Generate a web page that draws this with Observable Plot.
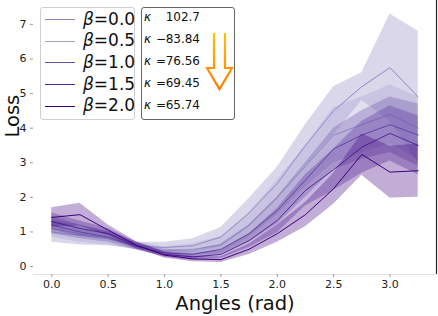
<!DOCTYPE html>
<html><head><meta charset="utf-8">
<script src="https://cdn.jsdelivr.net/npm/d3@7"></script>
<script src="https://cdn.jsdelivr.net/npm/@observablehq/plot@0.6"></script>
<style>
body{margin:0;background:#fff;font-family:"DejaVu Sans",sans-serif;}
#wrap{position:relative;width:438px;height:316px;overflow:hidden;}
.box{position:absolute;box-sizing:border-box;border-radius:3px;background:rgba(255,255,255,0.85);}
.row{position:absolute;white-space:nowrap;line-height:1;}
</style></head><body>
<div id="wrap"></div>
<script>
const angles = [0, 0.25, 0.5, 0.75, 1.0, 1.25, 1.5, 1.75, 2.0, 2.25, 2.5, 2.75, 3.0, 3.25];
const betas = ["0.0", "0.5", "1.0", "1.5", "2.0"];
const kappaSigns = [" ", "−", "=", "=", "="];
const kappaValues = ["102.7", "83.84", "76.56", "69.45", "65.74"];
const colors = ["#8e84c2", "#a39dd0", "#6b51a6", "#55289a", "#3f007d"];
const meanB00 = [1.0, 0.9, 0.8, 0.6, 0.55, 0.6, 0.85, 1.55, 2.4, 3.5, 4.5, 5.2, 5.75, 4.9];
const meanB05 = [1.1, 0.95, 0.82, 0.6, 0.45, 0.5, 0.62, 1.2, 2.0, 2.9, 3.8, 4.1, 4.4, 4.0];
const meanB10 = [1.2, 1.0, 0.85, 0.58, 0.4, 0.35, 0.5, 0.95, 1.62, 2.5, 3.4, 3.8, 4.1, 3.8];
const meanB15 = [1.3, 1.1, 0.95, 0.6, 0.35, 0.28, 0.35, 0.75, 1.33, 2.2, 2.8, 3.45, 3.85, 3.5];
const meanB20 = [1.42, 1.5, 1.05, 0.62, 0.33, 0.22, 0.2, 0.5, 0.95, 1.5, 2.25, 3.24, 2.73, 2.77];
const stdB00 = [0.3, 0.28, 0.2, 0.1, 0.15, 0.2, 0.28, 0.42, 0.47, 0.6, 0.7, 0.4, 1.55, 1.9];
const stdB05 = [0.25, 0.25, 0.2, 0.12, 0.12, 0.15, 0.25, 0.35, 0.5, 0.6, 0.8, 0.8, 0.85, 0.9];
const stdB10 = [0.25, 0.2, 0.15, 0.1, 0.1, 0.12, 0.15, 0.25, 0.4, 0.5, 0.6, 0.7, 0.8, 0.9];
const stdB15 = [0.25, 0.22, 0.15, 0.1, 0.08, 0.1, 0.12, 0.2, 0.35, 0.45, 0.6, 0.75, 0.8, 0.85];
const stdB20 = [0.28, 0.33, 0.15, 0.1, 0.08, 0.08, 0.08, 0.15, 0.25, 0.35, 0.45, 0.6, 0.75, 0.77];
const xTicks = [0, 0.5, 1.0, 1.5, 2.0, 2.5, 3.0];
const yTicks = [0, 1, 2, 3, 4, 5, 6, 7];

const means = [meanB00, meanB05, meanB10, meanB15, meanB20];
const stds = [stdB00, stdB05, stdB10, stdB15, stdB20];
const rows = [];
betas.forEach((b, i) => angles.forEach((a, j) => rows.push({
  beta: b, x: a, y: means[i][j], lo: means[i][j] - stds[i][j], hi: means[i][j] + stds[i][j]
})));

const marks = [];
betas.forEach((b, i) => {
  const d = rows.filter(r => r.beta === b);
  marks.push(Plot.areaY(d, {x: "x", y1: "lo", y2: "hi", fill: colors[i], fillOpacity: 0.32}));
  marks.push(Plot.lineY(d, {x: "x", y: "y", stroke: colors[i], strokeWidth: 1}));
});

const chart = Plot.plot({
  width: 438, height: 316,
  marginLeft: 33, marginRight: 2, marginTop: 0, marginBottom: 42,
  style: {fontFamily: "DejaVu Sans", fontSize: "11px", color: "#222", background: "white"},
  x: {domain: [-0.1625, 3.4125], ticks: xTicks, tickFormat: d3.format(".1f")},
  y: {domain: [-0.23, 7.69], ticks: yTicks},
  marks: [
    ...marks,
    Plot.ruleY([-0.23], {stroke: "#e3e3e3", strokeWidth: 1.2}),
    Plot.ruleX([3.4125], {stroke: "#222", strokeWidth: 1.2}),
    Plot.axisX({ticks: xTicks, tickFormat: d3.format(".1f"), tickSize: 3, tickPadding: 3, label: null, fontSize: 11, stroke: "#999"}),
    Plot.axisY({ticks: yTicks, tickSize: 3, tickPadding: 4, label: null, fontSize: 11, stroke: "#999"}),
    Plot.text(["Angles (rad)"], {frameAnchor: "bottom", dy: 29, fontSize: 19.5, fill: "#111", lineAnchor: "middle"}),
    Plot.text(["Loss"], {frameAnchor: "left", dx: -21, rotate: -90, fontSize: 19.5, fill: "#111", lineAnchor: "middle"})
  ]
});
const wrap = document.getElementById("wrap");
wrap.appendChild(chart);

// legend 1
const l1 = document.createElement("div");
l1.className = "box";
Object.assign(l1.style, {left: "40px", top: "7px", width: "95px", height: "113px", border: "1px solid #cfcfcf"});
wrap.appendChild(l1);
const ys1 = [19.5, 41, 62.5, 84.5, 106];
betas.forEach((b, i) => {
  const ln = document.createElement("div");
  Object.assign(ln.style, {position: "absolute", left: "45px", top: (ys1[i] - 0.5) + "px", width: "30px", height: "0", borderTop: (i === 1 ? 1.6 : 1.2) + "px solid " + colors[i]});
  wrap.appendChild(ln);
  const t = document.createElement("div");
  t.className = "row";
  Object.assign(t.style, {left: "83px", top: (ys1[i] - 9) + "px", fontSize: "17px", color: "#111"});
  t.innerHTML = '<i>β</i>=' + b;
  wrap.appendChild(t);
});
// legend 2
const l2 = document.createElement("div");
l2.className = "box";
Object.assign(l2.style, {left: "141px", top: "7px", width: "94px", height: "113px", border: "1px solid #666"});
wrap.appendChild(l2);
const ys2 = [17, 39, 61, 83, 105.5];
kappaValues.forEach((k, i) => {
  const sym = document.createElement("div");
  sym.className = "row";
  Object.assign(sym.style, {left: "144px", top: (ys2[i] - 6.5) + "px", fontSize: "12px", color: "#111"});
  sym.innerHTML = '<i>κ</i>';
  wrap.appendChild(sym);
  const eq = document.createElement("div");
  eq.className = "row";
  Object.assign(eq.style, {left: "156px", top: (ys2[i] - 6.5) + "px", fontSize: "12px", color: "#111"});
  eq.textContent = kappaSigns[i];
  wrap.appendChild(eq);
  const v = document.createElement("div");
  v.className = "row";
  Object.assign(v.style, {left: "160px", width: "40px", top: (ys2[i] - 6.5) + "px", fontSize: "12px", color: "#111", textAlign: "right"});
  v.textContent = k;
  wrap.appendChild(v);
});
// arrow
const ns = "http://www.w3.org/2000/svg";
const arr = document.createElementNS(ns, "svg");
arr.setAttribute("width", "438"); arr.setAttribute("height", "316");
Object.assign(arr.style, {position: "absolute", left: "0", top: "0", pointerEvents: "none"});
arr.innerHTML = '<defs><linearGradient id="g" x1="0" y1="33" x2="0" y2="90" gradientUnits="userSpaceOnUse"><stop offset="0" stop-color="#ffc400"/><stop offset="1" stop-color="#ff7a00"/></linearGradient></defs>' +
  '<path d="M214,33 V68 H207 L219.5,89 L232,68 H225 V33" fill="none" stroke="url(#g)" stroke-width="2.2" stroke-linejoin="miter"/>';
wrap.appendChild(arr);
</script>
</body></html>
